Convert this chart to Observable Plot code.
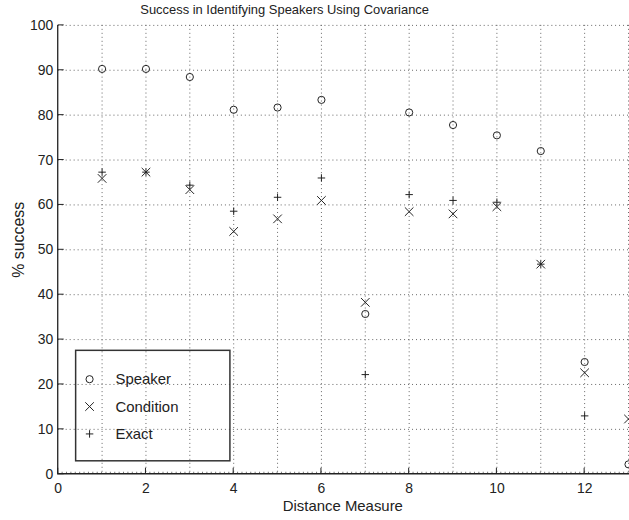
<!DOCTYPE html>
<html>
<head>
<meta charset="utf-8">
<script src="https://cdn.jsdelivr.net/npm/d3@7"></script>
<script src="https://cdn.jsdelivr.net/npm/@observablehq/plot@0.6"></script>
<style>
  html, body { margin: 0; padding: 0; background: #fff; overflow: hidden; }
  #chart svg { display: block; overflow: visible; }
</style>
</head>
<body>
<div id="chart"></div>
<script>
// Recognition rate (% success) for each distance measure
const distance  = [1, 2, 3, 4, 5, 6, 7, 8, 9, 10, 11, 12, 13];
const speaker   = [90.3, 90.3, 88.5, 81.2, 81.7, 83.4, 35.7, 80.6, 77.8, 75.5, 72.0, 25.0, 2.2];
const condition = [65.9, 67.3, 63.4, 54.1, 56.9, 61.0, 38.3, 58.5, 58.0, 59.6, 46.8, 22.6, 12.3];
const exact     = [67.3, 67.3, 64.4, 58.6, 61.7, 66.0, 22.2, 62.3, 61.0, 60.6, 46.8, 13.0, null];

const seriesNames = ["Speaker", "Condition", "Exact"];
const xTicks = [0, 2, 4, 6, 8, 10, 12];
const xGrid  = [1, 2, 3, 4, 5, 6, 7, 8, 9, 10, 11, 12, 13];
const yTicks = [0, 10, 20, 30, 40, 50, 60, 70, 80, 90, 100];

const titleText = "Success in Identifying Speakers Using Covariance";
const xLabel = "Distance Measure";
const yLabel = "% success";

const FONT = "'Liberation Sans', Arial, Helvetica, sans-serif";
const INK = "#222";
const GRID = "#666";

const rows = (vals) => distance.map((d, i) => ({d, v: vals[i]})).filter(r => r.v != null);

const markStyle = {
  speaker:   {symbol: "circle", r: 3.6},
  condition: {symbol: "times",  r: 4},
  exact:     {symbol: "plus",   r: 2.55}
};
const d3Symbols = {circle: d3.symbolCircle, times: d3.symbolTimes, plus: d3.symbolPlus};

// Axis lines, inward ticks, title, axis titles and the boxed legend
function decorations(index, scales, values, dims) {
  const {x, y} = scales;
  const {width, height, marginLeft, marginTop, marginBottom} = dims;
  const bottom = height - marginBottom;
  const g = d3.create("svg:g").attr("font-family", FONT);

  // x minor ticks
  const minor = d3.range(0, 131).map(k => k / 10);
  g.append("path")
    .attr("d", minor.map(v => `M${x(v)},${bottom}v-2`).join(""))
    .attr("stroke", "#555").attr("stroke-width", 0.8);
  // major ticks
  g.append("path")
    .attr("d", xTicks.map(v => `M${x(v)},${bottom}v-6`).join("") +
               yTicks.map(v => `M${marginLeft},${y(v)}h6`).join(""))
    .attr("stroke", INK).attr("stroke-width", 1);
  // axis lines
  g.append("path")
    .attr("d", `M${marginLeft},${marginTop}V${bottom}H${width}`)
    .attr("fill", "none").attr("stroke", INK).attr("stroke-width", 1.3);

  // title and axis titles
  g.append("text").text(titleText)
    .attr("x", 286).attr("y", 14).attr("text-anchor", "middle")
    .attr("font-size", 13).attr("fill", INK);
  g.append("text").text(xLabel)
    .attr("x", (x(0) + x(13)) / 2).attr("y", 513).attr("text-anchor", "middle")
    .attr("font-size", 15).attr("fill", INK);
  g.append("text").text(yLabel)
    .attr("transform", `translate(24,241) rotate(-90)`).attr("text-anchor", "middle")
    .attr("font-size", 16).attr("fill", INK);

  // legend
  const lx = marginLeft + 18, ly = bottom - 124, lw = 155, lh = 111;
  const lg = g.append("g");
  lg.append("rect").attr("x", lx).attr("y", ly).attr("width", lw).attr("height", lh)
    .attr("fill", "none").attr("stroke", "#333").attr("stroke-width", 1.5);
  const keys = ["speaker", "condition", "exact"];
  keys.forEach((k, i) => {
    const cy = ly + 29 + i * 27.5;
    const st = markStyle[k];
    lg.append("path")
      .attr("d", d3.symbol(d3Symbols[st.symbol], st.r * st.r * Math.PI)())
      .attr("transform", `translate(${lx + 14},${cy})`)
      .attr("fill", "none").attr("stroke", INK).attr("stroke-width", 1);
    lg.append("text").text(seriesNames[i])
      .attr("x", lx + 40).attr("y", cy).attr("dy", "0.35em")
      .attr("text-anchor", "start")
      .attr("font-size", 15).attr("fill", INK);
  });
  return g.node();
}

const chart = Plot.plot({
  width: 632,
  height: 520,
  marginLeft: 58,
  marginRight: 1,
  marginTop: 25,
  marginBottom: 44,
  style: {fontFamily: FONT, fontSize: "14px", color: INK, background: "#fff", overflow: "visible"},
  x: {domain: [0, 13]},
  y: {domain: [0, 100]},
  marks: [
    Plot.ruleX(xGrid, {stroke: GRID, strokeDasharray: "1,3", strokeWidth: 1}),
    Plot.ruleY(yTicks.filter(v => v > 0), {stroke: GRID, strokeDasharray: "1,3", strokeWidth: 1}),
    Plot.axisX(xTicks, {tickSize: 0, tickPadding: 9, label: null, fontSize: 14}),
    Plot.axisY(yTicks, {tickSize: 0, tickPadding: 5, label: null, fontSize: 14}),
    Plot.dot(rows(speaker),   {x: "d", y: "v", ...markStyle.speaker,   stroke: INK, strokeWidth: 1}),
    Plot.dot(rows(condition), {x: "d", y: "v", ...markStyle.condition, stroke: INK, strokeWidth: 1}),
    Plot.dot(rows(exact),     {x: "d", y: "v", ...markStyle.exact,     stroke: INK, strokeWidth: 1}),
    decorations
  ]
});

document.getElementById("chart").appendChild(chart);
</script>
</body>
</html>
